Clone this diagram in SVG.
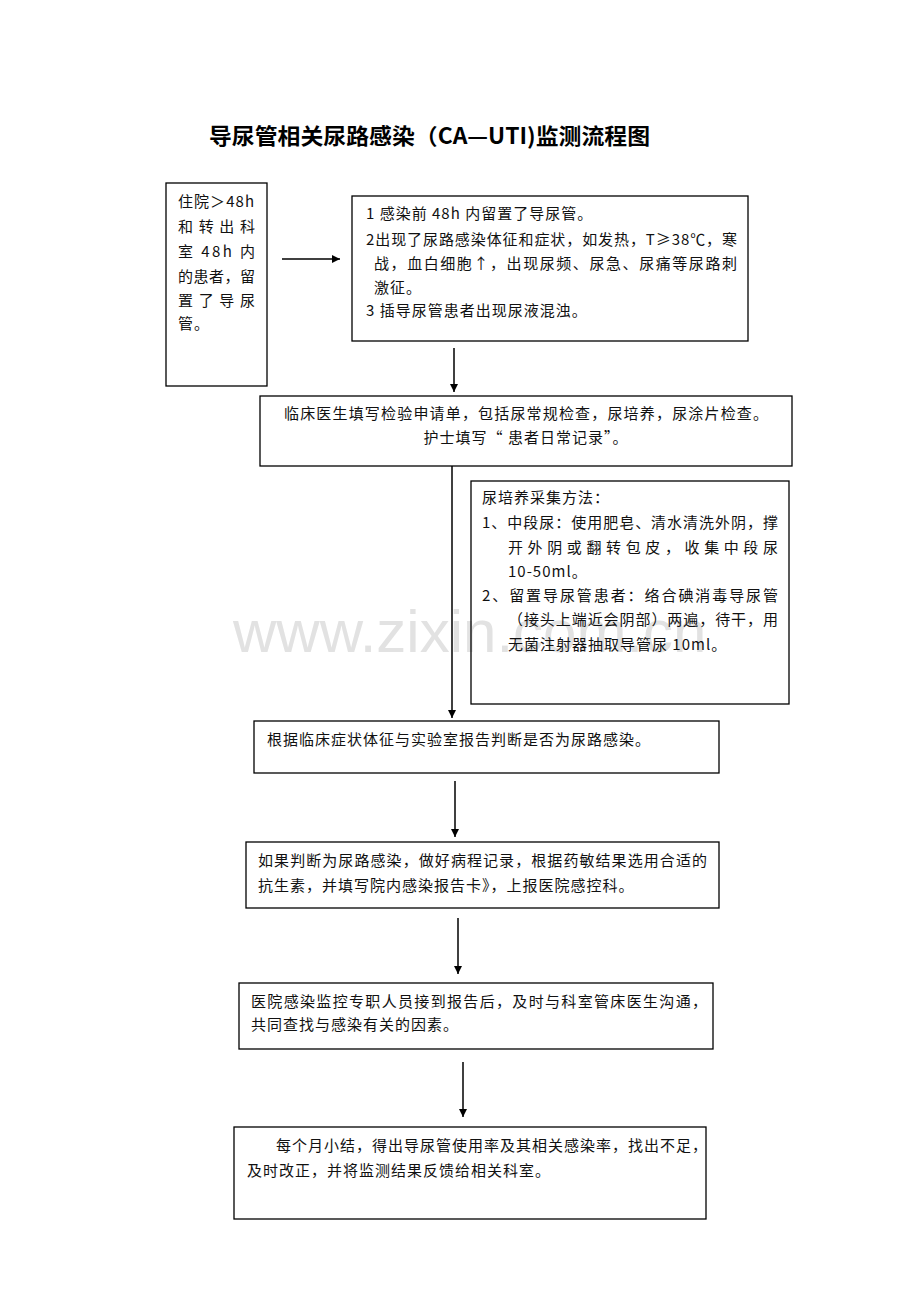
<svg xmlns="http://www.w3.org/2000/svg" width="920" height="1302" viewBox="0 0 920 1302">
<defs>
<marker id="ah" viewBox="0 0 10 10" refX="10" refY="5" markerWidth="8" markerHeight="8" markerUnits="userSpaceOnUse" orient="auto">
<path d="M0,0 L10,5 L0,10 Z" fill="#000"/>
</marker>
<style>
.box{fill:none;stroke:#000;stroke-width:1.3}
.t{font-family:"Noto Sans CJK SC","Noto Sans CJK JP",sans-serif;font-size:15px;fill:#111;letter-spacing:1px}
.j{font-family:"Noto Sans CJK SC","Noto Sans CJK JP",sans-serif;font-size:15px;fill:#111}
.title{font-family:"Noto Sans CJK SC",sans-serif;font-size:22px;font-weight:bold;fill:#000}
.wm{font-family:"Liberation Sans",Arial,sans-serif;font-size:60px;fill:#e2e2e2}
.c{stroke:#000;stroke-width:1.5;fill:none}
</style>
</defs>
<rect width="920" height="1302" fill="#fff"/>
<text class="wm" x="233" y="652">www.zixin.com.cn</text>
<text class="title" x="209" y="144" textLength="441" lengthAdjust="spacingAndGlyphs">导尿管相关尿路感染（CA—UTI)监测流程图</text>

<g id="connectors">
<line class="c" x1="282" y1="259" x2="340" y2="259" marker-end="url(#ah)"/>
<line class="c" x1="454" y1="348" x2="454" y2="392" marker-end="url(#ah)"/>
<line class="c" x1="452" y1="466" x2="452" y2="718" marker-end="url(#ah)"/>
<line class="c" x1="455" y1="781" x2="455" y2="837" marker-end="url(#ah)"/>
<line class="c" x1="458" y1="918" x2="458" y2="974" marker-end="url(#ah)"/>
<line class="c" x1="463" y1="1062" x2="463" y2="1117" marker-end="url(#ah)"/>
</g>

<g id="n1">
<rect class="box" x="166" y="183" width="101" height="203"/>
<text class="j" x="178" y="207" textLength="76" lengthAdjust="spacing">住院＞48h</text>
<text class="j" x="178" y="232" textLength="77" lengthAdjust="spacing">和转出科</text>
<text class="j" x="178" y="257" textLength="77" lengthAdjust="spacing">室 48h 内</text>
<text class="j" x="178" y="282" textLength="77" lengthAdjust="spacing">的患者，留</text>
<text class="j" x="178" y="306" textLength="77" lengthAdjust="spacing">置了导尿</text>
<text class="t" x="178" y="329">管。</text>
</g>

<g id="n2">
<rect class="box" x="352" y="196" width="396" height="145"/>
<text class="t" x="366" y="219">1 感染前 48h 内留置了导尿管。</text>
<text class="j" x="366" y="245" textLength="371" lengthAdjust="spacing">2出现了尿路感染体征和症状，如发热，T≥38℃，寒</text>
<text class="j" x="374" y="269" textLength="363" lengthAdjust="spacing">战，血白细胞↑，出现尿频、尿急、尿痛等尿路刺</text>
<text class="t" x="374" y="293">激征。</text>
<text class="t" x="366" y="316">3 插导尿管患者出现尿液混浊。</text>
</g>

<g id="n3">
<rect class="box" x="260" y="396" width="532" height="70"/>
<text class="j" x="284" y="419" textLength="484" lengthAdjust="spacing">临床医生填写检验申请单，包括尿常规检查，尿培养，尿涂片检查。</text>
<text class="t" x="526" y="443" text-anchor="middle">护士填写“ 患者日常记录”。</text>
</g>

<g id="n4">
<rect class="box" x="471" y="481" width="318" height="223"/>
<text class="t" x="482" y="503">尿培养采集方法：</text>
<text class="j" x="482" y="528" textLength="296" lengthAdjust="spacing">1、中段尿：使用肥皂、清水清洗外阴，撑</text>
<text class="j" x="508" y="553" textLength="270" lengthAdjust="spacing">开外阴或翻转包皮，收集中段尿</text>
<text class="t" x="508" y="577">10-50ml。</text>
<text class="j" x="482" y="601" textLength="296" lengthAdjust="spacing">2、留置导尿管患者：络合碘消毒导尿管</text>
<text class="j" x="508" y="625" textLength="270" lengthAdjust="spacing">（接头上端近会阴部）两遍，待干，用</text>
<text class="t" x="508" y="650">无菌注射器抽取导管尿 10ml。</text>
</g>

<g id="n5">
<rect class="box" x="254" y="721" width="465" height="52"/>
<text class="t" x="267" y="745">根据临床症状体征与实验室报告判断是否为尿路感染。</text>
</g>

<g id="n6">
<rect class="box" x="246" y="842" width="473" height="66"/>
<text class="j" x="258" y="866" textLength="449" lengthAdjust="spacing">如果判断为尿路感染，做好病程记录，根据药敏结果选用合适的</text>
<text class="t" x="258" y="891">抗生素，并填写院内感染报告卡》，上报医院感控科。</text>
</g>

<g id="n7">
<rect class="box" x="239" y="983" width="474" height="66"/>
<text class="j" x="251" y="1007" textLength="456" lengthAdjust="spacing">医院感染监控专职人员接到报告后，及时与科室管床医生沟通，</text>
<text class="t" x="251" y="1030">共同查找与感染有关的因素。</text>
</g>

<g id="n8">
<rect class="box" x="234" y="1127" width="472" height="92"/>
<text class="j" x="276" y="1151" textLength="431" lengthAdjust="spacing">每个月小结，得出导尿管使用率及其相关感染率，找出不足，</text>
<text class="t" x="247" y="1176">及时改正，并将监测结果反馈给相关科室。</text>
</g>
</svg>
